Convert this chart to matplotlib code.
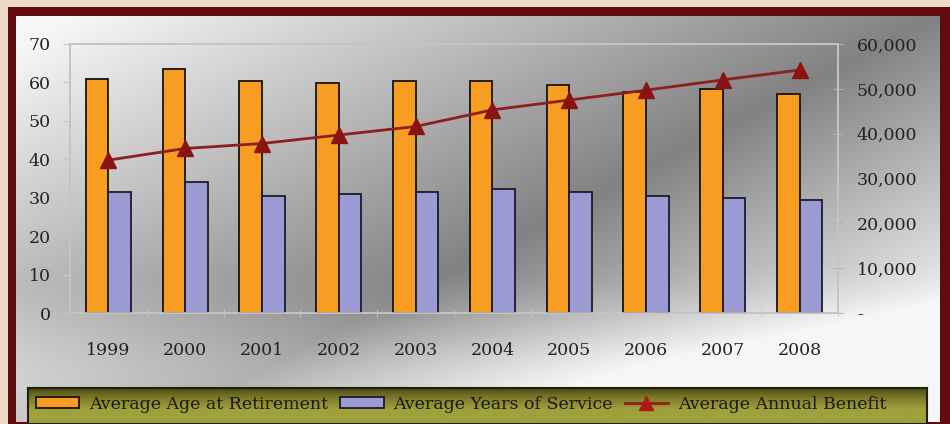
import matplotlib
matplotlib.use('Agg')
import matplotlib.pyplot as plt
from matplotlib.patches import Rectangle
from matplotlib.lines import Line2D
from matplotlib.ticker import FuncFormatter
import numpy as np

years = ['1999', '2000', '2001', '2002', '2003', '2004', '2005', '2006', '2007', '2008']
avg_age = [60.9, 63.5, 60.4, 59.8, 60.4, 60.4, 59.3, 57.6, 58.2, 56.9]
avg_service = [31.6, 34.2, 30.4, 31.0, 31.6, 32.2, 31.6, 30.4, 29.8, 29.4]
avg_benefit = [34100, 36700, 37800, 39700, 41600, 45300, 47500, 49700, 52000, 54200]

W, H = 950, 424
plt.rcParams['font.family'] = ['DejaVu Serif']
fig = plt.figure(figsize=(9.5, 4.24), dpi=100)
fig.patch.set_facecolor('#ecd9c7')

def fx(px):
    return px / W

def fy(py):
    return 1 - py / H

# dark red frame
fig.patches.append(Rectangle((fx(8), 0), fx(942), fy(7), transform=fig.transFigure,
                             facecolor='#620a0c', edgecolor='none', zorder=0))

# gray gradient panel (panel pixel coords, y down)
pw, ph = 924, 406
bg = fig.add_axes([fx(16), fy(422), fx(pw), fy(16) - fy(422)], zorder=0.5)
PX, PY = np.meshgrid(np.linspace(0, pw, 400), np.linspace(0, ph, 180))
nx, ny = 0.467, 0.885
dist = (PX - 920) * nx + PY * ny
t = np.where(dist > 0, dist / 290, -dist / 420)
t = np.clip(t, 0, 1)
gray = 130 + 122 * t
s = np.clip((PY - 250) / 130, 0, 1)
gray += 50 * s * s * (3 - 2 * s)
gray = np.clip(gray, 0, 246) / 255.0
bg.imshow(np.dstack([gray, gray, gray]), aspect='auto', extent=(0, 1, 1, 0))
bg.set_axis_off()

# main plot
ax = fig.add_axes([fx(70), fy(313), fx(768), fy(44) - fy(313)], zorder=2)
ax.patch.set_alpha(0)
x = np.arange(len(years))
w = 0.295
ax.bar(x - w / 2, avg_age, w, color='#f99d22', edgecolor='#1a1208', linewidth=1.3,
       label='Average Age at Retirement', zorder=3)
ax.bar(x + w / 2, avg_service, w, color='#9b9ad2', edgecolor='#1a1a30', linewidth=1.3,
       label='Average Years of Service', zorder=3)
ax.set_xlim(-0.5, len(years) - 0.5)
ax.set_ylim(0, 70)
ax.set_yticks(range(0, 71, 10))
ax.set_xticks(x)
ax.set_xticklabels(years)
ax.set_xticks(np.arange(-0.5, len(years), 1), minor=True)
ax.tick_params(axis='x', which='major', length=0, pad=21, labelsize=12.5, colors='#222222')
ax.tick_params(axis='x', which='minor', length=6, direction='inout', color='#c8c8c8')
ax.tick_params(axis='y', length=5, direction='out', pad=9, labelsize=12.5,
               colors='#222222')
ax.tick_params(axis='y', color='#c8c8c8')
for sp in ['left', 'bottom', 'top', 'right']:
    ax.spines[sp].set_color('#c4c4c4')
    ax.spines[sp].set_linewidth(1.2)

ax2 = ax.twinx()
ax2.plot(x, avg_benefit, color='#8e1f1f', linewidth=2, marker='^', markersize=12,
         markerfacecolor='#8a1414', markeredgecolor='#8a1414',
         label='Average Annual Benefit', zorder=4)
ax2.set_ylim(0, 60000)
ax2.set_yticks(range(0, 60001, 10000))
ax2.yaxis.set_major_formatter(FuncFormatter(lambda val, pos: '-' if val == 0 else f'{int(val):,}'))
ax2.tick_params(axis='y', length=7, direction='inout', pad=10, labelsize=12.5,
                colors='#222222')
ax2.tick_params(axis='y', color='#b0b0b0')
for sp in ['left', 'bottom', 'top', 'right']:
    ax2.spines[sp].set_color('#c4c4c4')
    ax2.spines[sp].set_linewidth(1.2)

# legend box with olive gradient
lax = fig.add_axes([fx(28), 0, fx(899), fy(388)], zorder=3)
lv = np.linspace(0, 1, 60)
top = np.array([60, 60, 15]) / 255.0
mid = np.array([160, 160, 60]) / 255.0
prof = np.clip(lv / 0.6, 0, 1) ** 0.6
cols = top[None, :] + (mid - top)[None, :] * prof[:, None]
lax.imshow(cols[:, None, :].repeat(10, axis=1), aspect='auto', extent=(0, 1, 1, 0))
lax.set_xlim(0, 1)
lax.set_ylim(1, 0)
lax.set_xticks([])
lax.set_yticks([])
for sp in lax.spines.values():
    sp.set_color('#202008')
    sp.set_linewidth(1.5)

handles = [Rectangle((0, 0), 1, 1, facecolor='#f99d22', edgecolor='#1a1208', linewidth=1.3),
           Rectangle((0, 0), 1, 1, facecolor='#9b9ad2', edgecolor='#1a1a30', linewidth=1.3),
           Line2D([], [], color='#8e1f1f', linewidth=2, marker='^', markersize=10,
                  markerfacecolor='#b01818', markeredgecolor='#b01818')]
labels = ['Average Age at Retirement', 'Average Years of Service', 'Average Annual Benefit']
lax.legend(handles, labels, ncol=3, loc='center left', bbox_to_anchor=(8 / 899, 0.55),
           frameon=False, fontsize=12.5, handlelength=2.5, handleheight=0.6,
           handletextpad=0.55, columnspacing=0.7, borderaxespad=0, borderpad=0,
           labelcolor='#1a1a08')

fig.savefig('out.png', dpi=100, facecolor=fig.get_facecolor())
